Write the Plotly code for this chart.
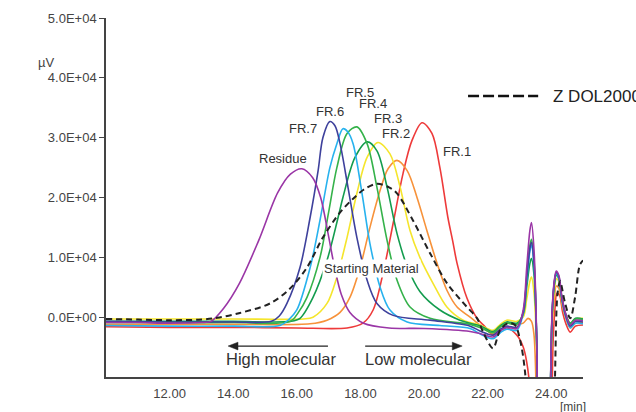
import plotly.graph_objects as go

# ---------------- data (retention time [min], signal [µV]) ----------------
t_res = [10, 11, 12, 13.0, 13.3, 13.7, 14.2, 14.8, 15.4, 15.8, 16.16, 16.5, 16.75, 17.0, 17.2, 17.4, 17.67, 18.1, 18.9, 20.0, 21.45,
         21.8, 22.17, 22.4, 22.6, 22.92, 23.12, 23.23, 23.33, 23.38, 23.46, 23.54, 23.62, 23.75, 23.9, 24.03, 24.1, 24.16, 24.24, 24.34, 24.45, 24.6, 24.76, 25.0]
v_res = [-900, -900, -1000, -900, -700, 1500, 5700, 12800, 20800, 23900, 24800, 23300, 20000, 13500, 8000, 3800, 800, -1000, -1800, -1900, -2400,
         -2800, -3300, -2300, -1700, -1900, 1200, 8300, 14500, 15800, 11200, -2700, -30000, -40000, -30000, 1200, 6200, 7700, 7000, 3300, 700, -1300, -500, -600]

t_fr7 = [10, 12, 14, 15.2, 15.45, 15.69, 16.1, 16.42, 16.67, 16.82, 17.04, 17.2, 17.36, 17.61, 17.89, 18.21, 18.52, 19.03, 20.19, 21.45,
         21.8, 22.17, 22.4, 22.6, 22.92, 23.12, 23.23, 23.33, 23.38, 23.46, 23.54, 23.62, 23.75, 23.9, 24.03, 24.1, 24.16, 24.24, 24.34, 24.45, 24.6, 24.76, 25.0]
v_fr7 = [-700, -800, -800, -700, 200, 2300, 8300, 16700, 24500, 30000, 32700, 32000, 29000, 21700, 13300, 6200, 2300, 300, -500, -1500,
         -2400, -3000, -2000, -1500, -1700, 800, 6500, 11500, 12500, 9000, -3000, -30000, -40000, -30000, 800, 6000, 7500, 6800, 3000, 400, -1500, -700, -800]

t_fr6 = [10, 12, 14, 15.47, 15.75, 16.0, 16.42, 16.73, 17.04, 17.26, 17.45, 17.6, 17.77, 18.05, 18.3, 18.62, 18.93, 19.47, 20.5, 21.45,
         21.8, 22.17, 22.4, 22.6, 22.92, 23.12, 23.23, 23.33, 23.38, 23.46, 23.54, 23.62, 23.75, 23.9, 24.03, 24.1, 24.16, 24.24, 24.34, 24.45, 24.6, 24.76, 25.0]
v_fr6 = [-1400, -1500, -1500, -1400, -400, 1200, 8300, 16200, 25000, 29000, 31500, 31000, 29000, 20700, 12300, 5000, 1200, -800, -1400, -1900,
         -2900, -3600, -2600, -2000, -2200, 600, 6000, 11000, 12000, 8500, -3000, -30000, -40000, -30000, 500, 5800, 7300, 6600, 2800, 200, -1800, -1000, -1100]

t_fr5 = [10, 12, 14, 15.79, 16.05, 16.32, 16.73, 17.0, 17.26, 17.58, 17.89, 18.21, 18.52, 18.84, 19.15, 19.56, 20.19, 21.45,
         21.8, 22.17, 22.4, 22.6, 22.92, 23.12, 23.23, 23.33, 23.38, 23.46, 23.54, 23.62, 23.75, 23.9, 24.03, 24.1, 24.16, 24.24, 24.34, 24.45, 24.6, 24.76, 25.0]
v_fr5 = [-900, -900, -900, -700, 800, 3300, 10000, 17500, 25000, 30700, 31800, 29000, 21700, 12800, 6200, 1700, -200, -1200,
         -1800, -2600, -1600, -1000, -1200, 800, 6800, 12000, 13000, 9500, -3000, -30000, -40000, -30000, 600, 5700, 7200, 6600, 3000, 500, -1200, -300, -400]

t_fr4 = [10, 12, 14, 15.8, 16.1, 16.51, 16.95, 17.3, 17.45, 17.83, 18.21, 18.52, 18.84, 19.15, 19.47, 19.87, 20.5, 21.13, 21.45,
         21.8, 22.17, 22.4, 22.6, 22.92, 23.12, 23.23, 23.33, 23.38, 23.46, 23.54, 23.62, 23.75, 23.9, 24.03, 24.1, 24.16, 24.24, 24.34, 24.45, 24.6, 24.76, 25.0]
v_fr4 = [-700, -700, -700, -700, -200, 3300, 9500, 16700, 20000, 26700, 29300, 27800, 21700, 14000, 8500, 4300, 1200, -500, -1000,
         -1500, -2400, -1400, -800, -1000, 500, 5000, 9000, 9800, 7000, -3500, -30000, -40000, -30000, 300, 5400, 7000, 6400, 3000, 600, -1000, -200, -300]

t_fr3 = [10, 12, 14, 16.2, 16.51, 16.95, 17.26, 17.58, 17.89, 18.21, 18.55, 18.93, 19.25, 19.56, 19.87, 20.28, 20.72, 21.23, 21.76,
         22.17, 22.4, 22.6, 22.92, 23.12, 23.23, 23.33, 23.38, 23.46, 23.54, 23.62, 23.75, 23.9, 24.03, 24.1, 24.16, 24.24, 24.34, 24.45, 24.6, 24.76, 25.0]
v_fr3 = [-300, -300, -300, -300, 0, 2300, 6700, 13300, 20700, 26700, 29200, 27300, 21700, 14500, 10000, 5700, 1700, -500, -1300,
         -2200, -1200, -500, -700, 0, 3000, 6000, 6700, 4000, -5000, -30000, -40000, -30000, -500, 4500, 6400, 6000, 2800, 500, -1000, -300, -200]

t_fr2 = [10, 12, 14, 16.42, 16.95, 17.36, 17.67, 17.99, 18.3, 18.62, 18.87, 19.15, 19.47, 19.78, 20.09, 20.41, 20.72, 21.04, 21.45,
         21.8, 22.17, 22.4, 22.6, 22.92, 23.12, 23.27, 23.38, 23.46, 23.54, 23.62, 23.75, 23.9, 24.03, 24.1, 24.16, 24.24, 24.34, 24.45, 24.6, 24.76, 25.0]
v_fr2 = [-1200, -1200, -1200, -1100, -500, 800, 3300, 8300, 15000, 21200, 24800, 26200, 24500, 20000, 14500, 9000, 4500, 1700, 0,
         -1500, -2700, -1600, -1000, -1200, -1000, -200, -700, -3000, -15000, -30000, -40000, -30000, -2000, 3000, 5200, 4800, 2000, 0, -1800, -1000, -900]

t_fr1 = [10, 12, 14, 16, 17.58, 18.08, 18.4, 18.71, 19.03, 19.34, 19.62, 19.94, 20.25, 20.5, 20.75, 20.9, 21.04, 21.35, 21.67,
         21.9, 22.17, 22.4, 22.6, 22.92, 23.12, 23.23, 23.33, 23.45, 23.62, 23.75, 23.95, 24.06, 24.12, 24.18, 24.26, 24.36, 24.47, 24.6, 24.76, 25.0]
v_fr1 = [-1600, -1700, -1700, -1800, -1800, -1000, 1200, 7300, 15700, 24000, 29500, 32500, 30700, 25000, 16700, 12800, 9000, 3200, -200,
         -1500, -3000, -2200, -1800, -3000, -5000, -7500, -12000, -30000, -40000, -40000, -30000, -4000, 1500, 4000, 3700, 800, -1200, -2500, -1500, -1300]

t_sm = [10, 11, 12, 13, 13.5, 14.21, 15.16, 15.79, 16.32, 16.82, 17.36, 17.77, 18.1, 18.52, 18.9, 19.15, 19.65, 20.19, 20.72, 21.35, 21.67,
        21.86, 22.17, 22.39, 22.64, 22.86, 23.02, 23.18, 23.35, 23.7, 24.05, 24.12, 24.2, 24.28, 24.43, 24.6, 24.75, 24.9, 25.0]
v_sm = [-300, -400, -500, -400, -100, 700, 2300, 4800, 8300, 13300, 17500, 19800, 21300, 22300, 21700, 20700, 16200, 10700, 5700, 1700, -200,
        -2500, -5200, -2200, -1000, -1300, -3800, -9300, -30000, -40000, -30000, -10000, 4000, 6000, 2500, -200, 3300, 8700, 9500]

# curve labels (name, t, value where the label sits)
label_names = ["Residue", "FR.7", "FR.6", "FR.5", "FR.4", "FR.3", "FR.2", "FR.1"]
label_t = [15.57, 16.2, 17.04, 17.99, 18.4, 18.87, 19.12, 21.04]
label_v = [26500, 31500, 34300, 37500, 35700, 33200, 30700, 27700]

x_ticks = [12, 14, 16, 18, 20, 22, 24]
x_ticktext = ["12.00", "14.00", "16.00", "18.00", "20.00", "22.00", "24.00"]
y_ticks = [0, 10000, 20000, 30000, 40000, 50000]
y_ticktext = ["0.0E+00", "1.0E+04", "2.0E+04", "3.0E+04", "4.0E+04", "5.0E+04"]

FONT = "Arial, 'Liberation Sans', sans-serif"

series = [
    ("FR.1", t_fr1, v_fr1, "#EE3A3A"),
    ("FR.2", t_fr2, v_fr2, "#F7923A"),
    ("FR.3", t_fr3, v_fr3, "#F5E52C"),
    ("FR.4", t_fr4, v_fr4, "#139C4E"),
    ("FR.5", t_fr5, v_fr5, "#35B24A"),
    ("FR.6", t_fr6, v_fr6, "#27B2EE"),
    ("FR.7", t_fr7, v_fr7, "#3E419C"),
    ("Residue", t_res, v_res, "#9A36A6"),
]

fig = go.Figure()
for name, t, v, c in series:
    fig.add_trace(go.Scatter(x=t, y=v, mode="lines", name=name,
                             line=dict(color=c, width=1.6, shape="spline", smoothing=0.9),
                             showlegend=False, hoverinfo="skip"))
fig.add_trace(go.Scatter(x=t_sm, y=v_sm, mode="lines", name="Z DOL2000",
                         line=dict(color="#222222", width=2, dash="6px,4px", shape="spline", smoothing=0.9),
                         showlegend=False, hoverinfo="skip"))

annotations = []
for n, tx, vy in zip(label_names, label_t, label_v):
    annotations.append(dict(x=tx, y=vy, text=n, showarrow=False,
                            font=dict(size=13, color="#333333", family=FONT)))
annotations.append(dict(x=18.36, y=8200, text="Starting Material", showarrow=False, bgcolor="white",
                        borderpad=1, font=dict(size=13, color="#333333", family=FONT)))
annotations.append(dict(x=15.53, y=-7000, text="High molecular", showarrow=False,
                        font=dict(size=16.5, color="#333333", family=FONT)))
annotations.append(dict(x=19.84, y=-7000, text="Low molecular", showarrow=False,
                        font=dict(size=16.5, color="#333333", family=FONT)))
# legend text
annotations.append(dict(xref="paper", yref="paper", x=0.933, y=0.7827, xanchor="left", yanchor="middle",
                        text="Z DOL2000", showarrow=False, font=dict(size=17, color="#222222", family=FONT)))
# axis titles
annotations.append(dict(xref="paper", yref="paper", x=-0.147, y=0.9025, text="µV", showarrow=False,
                        font=dict(size=13, color="#444444", family=FONT)))
annotations.append(dict(xref="paper", yref="paper", x=1.0105, y=-0.0836, text="[min]", showarrow=False,
                        yanchor="middle", font=dict(size=12, color="#444444", family=FONT)))

ARROW_Y = -4830
shapes = [
    # legend sample
    dict(type="line", xref="paper", yref="paper", x0=0.759, x1=0.906, y0=0.7827, y1=0.7827,
         line=dict(color="#111111", width=2.5, dash="11px,4px")),
    # "High molecular" arrow (pointing left)
    dict(type="line", xref="x", yref="y", x0=14.05, x1=16.98, y0=ARROW_Y, y1=ARROW_Y,
         line=dict(color="#222222", width=1.2)),
    dict(type="path", xref="x", yref="y",
         path=f"M 13.84 {ARROW_Y} L 14.15 {ARROW_Y + 650} L 14.15 {ARROW_Y - 650} Z",
         fillcolor="#222222", line=dict(color="#222222", width=0.5)),
    # "Low molecular" arrow (pointing right)
    dict(type="line", xref="x", yref="y", x0=18.15, x1=21.0, y0=ARROW_Y, y1=ARROW_Y,
         line=dict(color="#222222", width=1.2)),
    dict(type="path", xref="x", yref="y",
         path=f"M 21.2 {ARROW_Y} L 20.89 {ARROW_Y + 650} L 20.89 {ARROW_Y - 650} Z",
         fillcolor="#222222", line=dict(color="#222222", width=0.5)),
]

fig.update_layout(
    width=636, height=412,
    margin=dict(l=106, r=53, t=18, b=35, autoexpand=False),
    paper_bgcolor="white", plot_bgcolor="white",
    font=dict(family=FONT, color="#444444", size=13),
    annotations=annotations, shapes=shapes,
    showlegend=False,
)
fig.update_xaxes(range=[10, 25], showline=True, linecolor="#444444", linewidth=1.5, showgrid=False,
                 zeroline=False, tickvals=x_ticks, ticktext=x_ticktext, ticks="", ticklabelstandoff=4,
                 automargin=False, tickfont=dict(size=13, color="#444444"))
fig.update_yaxes(range=[-10000, 50000], showline=True, linecolor="#444444", linewidth=1.5, showgrid=False,
                 zeroline=False, tickvals=y_ticks, ticktext=y_ticktext, ticks="outside", ticklen=5,
                 automargin=False, tickcolor="#444444", tickfont=dict(size=13, color="#444444"))

fig.write_html("out.html")
